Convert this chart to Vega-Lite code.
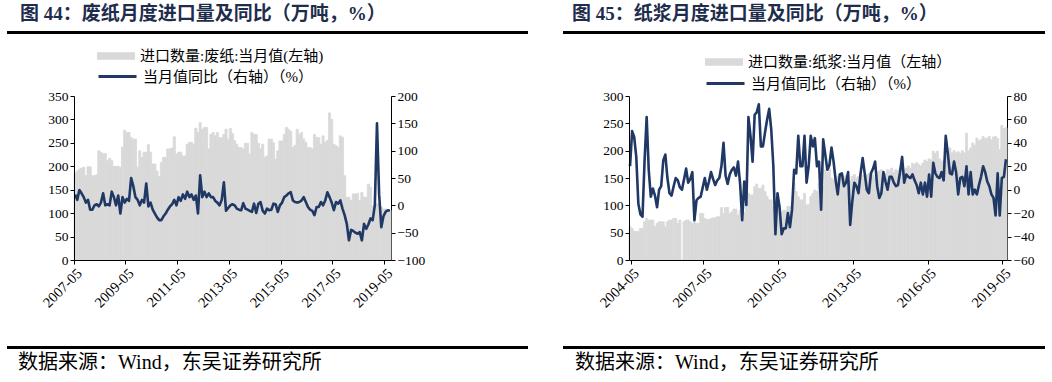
{
"$schema": "https://vega.github.io/schema/vega-lite/v6.json",
"background": "white",
"padding": {"left": 7, "top": 5, "right": 0, "bottom": 0},
"spacing": 0,
"resolve": {"scale": {"fill": "independent", "stroke": "independent"}, "legend": {"fill": "independent", "stroke": "independent"}},
"datasets": {
"paper": [
{"m":"2007-05","v":185,"y":20},{"m":"2007-06","v":190,"y":10},{"m":"2007-07","v":194,"y":28},{"m":"2007-08","v":196,"y":22},{"m":"2007-09","v":198,"y":15},{"m":"2007-10","v":180,"y":5},{"m":"2007-11","v":199,"y":10},{"m":"2007-12","v":199,"y":-8},
{"m":"2008-01","v":180,"y":-8},{"m":"2008-02","v":180,"y":0},{"m":"2008-03","v":182,"y":2},{"m":"2008-04","v":233,"y":-2},{"m":"2008-05","v":230,"y":5},{"m":"2008-06","v":227,"y":22},{"m":"2008-07","v":227,"y":0},{"m":"2008-08","v":212,"y":2},{"m":"2008-09","v":217,"y":0},{"m":"2008-10","v":212,"y":25},{"m":"2008-11","v":200,"y":15},{"m":"2008-12","v":200,"y":0},
{"m":"2009-01","v":200,"y":18},{"m":"2009-02","v":198,"y":-15},{"m":"2009-03","v":241,"y":15},{"m":"2009-04","v":277,"y":5},{"m":"2009-05","v":272,"y":12},{"m":"2009-06","v":272,"y":8},{"m":"2009-07","v":261,"y":50},{"m":"2009-08","v":258,"y":35},{"m":"2009-09","v":258,"y":15},{"m":"2009-10","v":198,"y":10},{"m":"2009-11","v":233,"y":0},{"m":"2009-12","v":219,"y":10},
{"m":"2010-01","v":230,"y":5},{"m":"2010-02","v":230,"y":40},{"m":"2010-03","v":246,"y":-2},{"m":"2010-04","v":230,"y":5},{"m":"2010-05","v":205,"y":-8},{"m":"2010-06","v":205,"y":-15},{"m":"2010-07","v":190,"y":-22},{"m":"2010-08","v":178,"y":-27},{"m":"2010-09","v":208,"y":-27},{"m":"2010-10","v":219,"y":-20},{"m":"2010-11","v":219,"y":-15},{"m":"2010-12","v":237,"y":-8},
{"m":"2011-01","v":237,"y":-2},{"m":"2011-02","v":239,"y":2},{"m":"2011-03","v":263,"y":10},{"m":"2011-04","v":226,"y":0},{"m":"2011-05","v":230,"y":15},{"m":"2011-06","v":230,"y":8},{"m":"2011-07","v":222,"y":20},{"m":"2011-08","v":222,"y":12},{"m":"2011-09","v":247,"y":25},{"m":"2011-10","v":251,"y":15},{"m":"2011-11","v":251,"y":20},{"m":"2011-12","v":247,"y":10},
{"m":"2012-01","v":281,"y":18},{"m":"2012-02","v":272,"y":-15},{"m":"2012-03","v":293,"y":55},{"m":"2012-04","v":279,"y":15},{"m":"2012-05","v":283,"y":25},{"m":"2012-06","v":283,"y":15},{"m":"2012-07","v":237,"y":22},{"m":"2012-08","v":268,"y":15},{"m":"2012-09","v":272,"y":15},{"m":"2012-10","v":265,"y":8},{"m":"2012-11","v":272,"y":5},{"m":"2012-12","v":261,"y":0},
{"m":"2013-01","v":261,"y":10},{"m":"2013-02","v":268,"y":42},{"m":"2013-03","v":279,"y":-10},{"m":"2013-04","v":258,"y":-5},{"m":"2013-05","v":281,"y":0},{"m":"2013-06","v":270,"y":2},{"m":"2013-07","v":255,"y":0},{"m":"2013-08","v":247,"y":-6},{"m":"2013-09","v":240,"y":-8},{"m":"2013-10","v":240,"y":-9},{"m":"2013-11","v":237,"y":4},{"m":"2013-12","v":249,"y":-6},
{"m":"2014-01","v":249,"y":-8},{"m":"2014-02","v":226,"y":-10},{"m":"2014-03","v":272,"y":-12},{"m":"2014-04","v":268,"y":3},{"m":"2014-05","v":268,"y":-14},{"m":"2014-06","v":249,"y":3},{"m":"2014-07","v":237,"y":6},{"m":"2014-08","v":247,"y":-10},{"m":"2014-09","v":219,"y":-15},{"m":"2014-10","v":222,"y":-6},{"m":"2014-11","v":258,"y":-9},{"m":"2014-12","v":258,"y":-8},
{"m":"2015-01","v":250,"y":3},{"m":"2015-02","v":215,"y":2},{"m":"2015-03","v":233,"y":-12},{"m":"2015-04","v":254,"y":0},{"m":"2015-05","v":254,"y":5},{"m":"2015-06","v":268,"y":15},{"m":"2015-07","v":283,"y":18},{"m":"2015-08","v":279,"y":22},{"m":"2015-09","v":275,"y":24},{"m":"2015-10","v":240,"y":9},{"m":"2015-11","v":245,"y":6},{"m":"2015-12","v":279,"y":5},
{"m":"2016-01","v":268,"y":6},{"m":"2016-02","v":272,"y":9},{"m":"2016-03","v":258,"y":15},{"m":"2016-04","v":251,"y":6},{"m":"2016-05","v":240,"y":-3},{"m":"2016-06","v":240,"y":-8},{"m":"2016-07","v":237,"y":-10},{"m":"2016-08","v":268,"y":-18},{"m":"2016-09","v":262,"y":-3},{"m":"2016-10","v":261,"y":-3},{"m":"2016-11","v":247,"y":6},{"m":"2016-12","v":265,"y":0},
{"m":"2017-01","v":251,"y":9},{"m":"2017-02","v":255,"y":24},{"m":"2017-03","v":314,"y":15},{"m":"2017-04","v":300,"y":5},{"m":"2017-05","v":247,"y":-9},{"m":"2017-06","v":244,"y":6},{"m":"2017-07","v":240,"y":3},{"m":"2017-08","v":265,"y":9},{"m":"2017-09","v":262,"y":-6},{"m":"2017-10","v":180,"y":-18},{"m":"2017-11","v":134,"y":-34},{"m":"2017-12","v":134,"y":-64},
{"m":"2018-01","v":127,"y":-45},{"m":"2018-02","v":141,"y":-47},{"m":"2018-03","v":141,"y":-50},{"m":"2018-04","v":142,"y":-52},{"m":"2018-05","v":127,"y":-49},{"m":"2018-06","v":144,"y":-64},{"m":"2018-07","v":134,"y":-34},{"m":"2018-08","v":134,"y":-43},{"m":"2018-09","v":162,"y":-35},{"m":"2018-10","v":155,"y":-24},{"m":"2018-11","v":116,"y":-27},{"m":"2018-12","v":116,"y":0},
{"m":"2019-01","v":120,"y":150},{"m":"2019-02","v":120,"y":20},{"m":"2019-03","v":113,"y":-40},{"m":"2019-04","v":109,"y":-20},{"m":"2019-05","v":109,"y":-12},{"m":"2019-06","v":100,"y":-9},{"m":"2019-07","v":106,"y":-10}
],
"pulp": [
{"m":"2004-05","v":61,"y":20},{"m":"2004-06","v":58,"y":50},{"m":"2004-07","v":53,"y":45},{"m":"2004-08","v":52,"y":28},{"m":"2004-09","v":52,"y":-12},{"m":"2004-10","v":58,"y":-21},{"m":"2004-11","v":58,"y":-23},{"m":"2004-12","v":70,"y":25},
{"m":"2005-01","v":76,"y":62},{"m":"2005-02","v":73,"y":17},{"m":"2005-03","v":73,"y":-6},{"m":"2005-04","v":73,"y":1},{"m":"2005-05","v":61,"y":-5},{"m":"2005-06","v":67,"y":-15},{"m":"2005-07","v":70,"y":0},{"m":"2005-08","v":70,"y":3},{"m":"2005-09","v":70,"y":25},{"m":"2005-10","v":61,"y":30},{"m":"2005-11","v":70,"y":10},{"m":"2005-12","v":73,"y":-3},
{"m":"2006-01","v":73,"y":-5},{"m":"2006-02","v":76,"y":3},{"m":"2006-03","v":76,"y":10},{"m":"2006-04","v":67,"y":8},{"m":"2006-05","v":73,"y":2},{"m":"2006-06","v":0,"y":0},{"m":"2006-07","v":70,"y":9},{"m":"2006-08","v":73,"y":18},{"m":"2006-09","v":73,"y":6},{"m":"2006-10","v":70,"y":9},{"m":"2006-11","v":67,"y":15},{"m":"2006-12","v":76,"y":-26},
{"m":"2007-01","v":67,"y":-9},{"m":"2007-02","v":67,"y":-7},{"m":"2007-03","v":85,"y":-6},{"m":"2007-04","v":85,"y":2},{"m":"2007-05","v":76,"y":10},{"m":"2007-06","v":74,"y":0},{"m":"2007-07","v":74,"y":7},{"m":"2007-08","v":76,"y":15},{"m":"2007-09","v":77,"y":9},{"m":"2007-10","v":77,"y":4},{"m":"2007-11","v":79,"y":8},{"m":"2007-12","v":79,"y":10},
{"m":"2008-01","v":96,"y":20},{"m":"2008-02","v":85,"y":40},{"m":"2008-03","v":96,"y":12},{"m":"2008-04","v":96,"y":5},{"m":"2008-05","v":85,"y":13},{"m":"2008-06","v":88,"y":17},{"m":"2008-07","v":93,"y":19},{"m":"2008-08","v":93,"y":12},{"m":"2008-09","v":82,"y":24},{"m":"2008-10","v":91,"y":5},{"m":"2008-11","v":91,"y":-26},{"m":"2008-12","v":87,"y":7},
{"m":"2009-01","v":113,"y":-13},{"m":"2009-02","v":122,"y":62},{"m":"2009-03","v":119,"y":46},{"m":"2009-04","v":119,"y":24},{"m":"2009-05","v":134,"y":64},{"m":"2009-06","v":139,"y":66},{"m":"2009-07","v":131,"y":73},{"m":"2009-08","v":131,"y":37},{"m":"2009-09","v":137,"y":37},{"m":"2009-10","v":125,"y":49},{"m":"2009-11","v":116,"y":60},{"m":"2009-12","v":110,"y":69},
{"m":"2010-01","v":110,"y":51},{"m":"2010-02","v":98,"y":20},{"m":"2010-03","v":101,"y":-38},{"m":"2010-04","v":94,"y":-3},{"m":"2010-05","v":88,"y":-15},{"m":"2010-06","v":88,"y":-38},{"m":"2010-07","v":91,"y":-33},{"m":"2010-08","v":91,"y":-33},{"m":"2010-09","v":98,"y":-20},{"m":"2010-10","v":98,"y":-32},{"m":"2010-11","v":82,"y":-17},{"m":"2010-12","v":140,"y":17},
{"m":"2011-01","v":125,"y":14},{"m":"2011-02","v":116,"y":46},{"m":"2011-03","v":110,"y":20},{"m":"2011-04","v":110,"y":20},{"m":"2011-05","v":122,"y":46},{"m":"2011-06","v":101,"y":6},{"m":"2011-07","v":101,"y":20},{"m":"2011-08","v":116,"y":46},{"m":"2011-09","v":122,"y":37},{"m":"2011-10","v":128,"y":44},{"m":"2011-11","v":125,"y":20},{"m":"2011-12","v":140,"y":24},
{"m":"2012-01","v":130,"y":-17},{"m":"2012-02","v":135,"y":43},{"m":"2012-03","v":165,"y":30},{"m":"2012-04","v":160,"y":17},{"m":"2012-05","v":167,"y":21},{"m":"2012-06","v":150,"y":36},{"m":"2012-07","v":146,"y":24},{"m":"2012-08","v":150,"y":8},{"m":"2012-09","v":153,"y":-4},{"m":"2012-10","v":148,"y":13},{"m":"2012-11","v":150,"y":14},{"m":"2012-12","v":153,"y":3},
{"m":"2013-01","v":155,"y":6},{"m":"2013-02","v":150,"y":15},{"m":"2013-03","v":145,"y":-30},{"m":"2013-04","v":153,"y":-10},{"m":"2013-05","v":156,"y":6},{"m":"2013-06","v":150,"y":3},{"m":"2013-07","v":153,"y":-3},{"m":"2013-08","v":158,"y":14},{"m":"2013-09","v":155,"y":27},{"m":"2013-10","v":150,"y":14},{"m":"2013-11","v":156,"y":0},{"m":"2013-12","v":158,"y":-3},
{"m":"2014-01","v":160,"y":14},{"m":"2014-02","v":155,"y":18},{"m":"2014-03","v":150,"y":24},{"m":"2014-04","v":160,"y":3},{"m":"2014-05","v":163,"y":-7},{"m":"2014-06","v":165,"y":-3},{"m":"2014-07","v":160,"y":15},{"m":"2014-08","v":158,"y":7},{"m":"2014-09","v":165,"y":0},{"m":"2014-10","v":163,"y":11},{"m":"2014-11","v":168,"y":11},{"m":"2014-12","v":160,"y":6},
{"m":"2015-01","v":165,"y":3},{"m":"2015-02","v":163,"y":4},{"m":"2015-03","v":168,"y":15},{"m":"2015-04","v":170,"y":28},{"m":"2015-05","v":165,"y":6},{"m":"2015-06","v":168,"y":13},{"m":"2015-07","v":172,"y":11},{"m":"2015-08","v":168,"y":10},{"m":"2015-09","v":177,"y":13},{"m":"2015-10","v":175,"y":8},{"m":"2015-11","v":178,"y":4},{"m":"2015-12","v":175,"y":-3},
{"m":"2016-01","v":172,"y":6},{"m":"2016-02","v":177,"y":-4},{"m":"2016-03","v":183,"y":6},{"m":"2016-04","v":180,"y":-6},{"m":"2016-05","v":185,"y":13},{"m":"2016-06","v":183,"y":-6},{"m":"2016-07","v":199,"y":23},{"m":"2016-08","v":195,"y":14},{"m":"2016-09","v":199,"y":11},{"m":"2016-10","v":185,"y":10},{"m":"2016-11","v":180,"y":15},{"m":"2016-12","v":183,"y":8},
{"m":"2017-01","v":202,"y":46},{"m":"2017-02","v":198,"y":31},{"m":"2017-03","v":205,"y":14},{"m":"2017-04","v":196,"y":13},{"m":"2017-05","v":200,"y":24},{"m":"2017-06","v":196,"y":15},{"m":"2017-07","v":198,"y":-4},{"m":"2017-08","v":195,"y":10},{"m":"2017-09","v":200,"y":11},{"m":"2017-10","v":196,"y":3},{"m":"2017-11","v":232,"y":20},{"m":"2017-12","v":200,"y":-4},
{"m":"2018-01","v":205,"y":15},{"m":"2018-02","v":214,"y":-4},{"m":"2018-03","v":210,"y":0},{"m":"2018-04","v":223,"y":-4},{"m":"2018-05","v":218,"y":4},{"m":"2018-06","v":220,"y":11},{"m":"2018-07","v":226,"y":20},{"m":"2018-08","v":222,"y":15},{"m":"2018-09","v":223,"y":7},{"m":"2018-10","v":226,"y":3},{"m":"2018-11","v":220,"y":-4},{"m":"2018-12","v":225,"y":-7},
{"m":"2019-01","v":226,"y":-22},{"m":"2019-02","v":222,"y":14},{"m":"2019-03","v":202,"y":-22},{"m":"2019-04","v":246,"y":10},{"m":"2019-05","v":240,"y":11},{"m":"2019-06","v":242,"y":26}
]
},
"vconcat": [
{"hconcat": [
 {"width": 521, "height": 3, "data": {"values": []}, "mark": {"type": "point", "opacity": 0}, "view": {"fill": "#000000", "stroke": null},
  "title": {"text": "图 44：废纸月度进口量及同比（万吨，%）", "anchor": "start", "dx": 13, "offset": 7}},
 {"width": 482, "height": 3, "data": {"values": []}, "mark": {"type": "point", "opacity": 0}, "view": {"fill": "#000000", "stroke": null},
  "title": {"text": "图 45：纸浆月度进口量及同比（万吨，%）", "anchor": "start", "dx": 9, "offset": 7}}
], "spacing": 35},
{"width": 1, "height": 3, "data": {"values": []}, "mark": {"type": "point", "opacity": 0}},
{"hconcat": [
 {"width": 32, "height": 1, "data": {"values": []}, "mark": {"type": "point", "opacity": 0}},
 {"width": 317, "height": 164, "data": {"name": "paper"},
  "layer": [
   {"mark": {"type": "bar", "stroke": "#d9d9d9", "strokeWidth": 0.8},
    "encoding": {
     "x": {"field": "m", "type": "ordinal", "scale": {"paddingInner": 0, "paddingOuter": 0},
       "axis": {"values": ["2007-05","2009-05","2011-05","2013-05","2015-05","2017-05","2019-05"], "labelAngle": -45, "bandPosition": 0, "labelOverlap": false, "labelBound": false, "labelFlush": false, "title": null, "zindex": 2}},
     "y": {"field": "v", "type": "quantitative", "scale": {"domain": [0, 350], "nice": false},
       "axis": {"values": [0,50,100,150,200,250,300,350], "title": null, "zindex": 2}},
     "fill": {"datum": "进口数量:废纸:当月值(左轴)", "scale": {"range": ["#d9d9d9"]},
       "legend": {"orient": "none", "legendX": 23, "legendY": -59, "title": null, "symbolType": "M-1,-0.2H1V0.2H-1Z", "symbolSize": 1444, "symbolStrokeWidth": 0, "labelOffset": 5}}
    }},
   {"mark": {"type": "line", "strokeWidth": 2.6, "strokeJoin": "round"},
    "encoding": {
     "x": {"field": "m", "type": "ordinal"},
     "y": {"field": "y", "type": "quantitative", "scale": {"domain": [-100, 200], "nice": false},
       "axis": {"orient": "right", "values": [-100,-50,0,50,100,150,200], "title": null}},
     "stroke": {"datum": "当月值同比（右轴）（%）", "scale": {"range": ["#1f3864"]},
       "legend": {"orient": "none", "legendX": 23, "legendY": -40, "title": null, "symbolType": "M-1,0H1", "symbolSize": 1444, "symbolStrokeWidth": 3, "labelOffset": 5}}
    }}
  ],
  "resolve": {"scale": {"y": "independent", "fill": "independent", "stroke": "independent"}}
 },
 {"width": 171, "height": 1, "data": {"values": []}, "mark": {"type": "point", "opacity": 0}},
 {"width": 378, "height": 164, "data": {"name": "pulp"},
  "layer": [
   {"mark": {"type": "bar", "stroke": "#d9d9d9", "strokeWidth": 0.8},
    "encoding": {
     "x": {"field": "m", "type": "ordinal", "scale": {"paddingInner": 0, "paddingOuter": 0},
       "axis": {"values": ["2004-06","2007-05","2010-05","2013-05","2016-05","2019-05"], "labelExpr": "datum.value == '2004-06' ? '2004-05' : datum.value", "labelAngle": -45, "bandPosition": 0, "labelOverlap": false, "labelBound": false, "labelFlush": false, "title": null, "zindex": 2}},
     "y": {"field": "v", "type": "quantitative", "scale": {"domain": [0, 300], "nice": false},
       "axis": {"values": [0,50,100,150,200,250,300], "title": null, "zindex": 2}},
     "fill": {"datum": "进口数量:纸浆:当月值（左轴）", "scale": {"range": ["#d9d9d9"]},
       "legend": {"orient": "none", "legendX": 76, "legendY": -53, "title": null, "symbolType": "M-1,-0.2H1V0.2H-1Z", "symbolSize": 1444, "symbolStrokeWidth": 0, "labelOffset": 5}}
    }},
   {"mark": {"type": "line", "strokeWidth": 2.6, "strokeJoin": "round"},
    "encoding": {
     "x": {"field": "m", "type": "ordinal"},
     "y": {"field": "y", "type": "quantitative", "scale": {"domain": [-60, 80], "nice": false},
       "axis": {"orient": "right", "values": [-60,-40,-20,0,20,40,60,80], "title": null}},
     "stroke": {"datum": "当月值同比（右轴）（%）", "scale": {"range": ["#1f3864"]},
       "legend": {"orient": "none", "legendX": 76, "legendY": -33, "title": null, "symbolType": "M-1,0H1", "symbolSize": 1444, "symbolStrokeWidth": 3, "labelOffset": 5}}
    }}
  ],
  "resolve": {"scale": {"y": "independent", "fill": "independent", "stroke": "independent"}}
 }
], "spacing": 0, "resolve": {"scale": {"fill": "independent", "stroke": "independent"}, "legend": {"fill": "independent", "stroke": "independent"}}},
{"width": 1, "height": 36, "data": {"values": []}, "mark": {"type": "point", "opacity": 0}},
{"hconcat": [
 {"width": 521, "height": 3, "data": {"values": []}, "mark": {"type": "point", "opacity": 0}, "view": {"fill": "#000000", "stroke": null},
  "title": {"text": "数据来源：Wind，东吴证券研究所", "orient": "bottom", "anchor": "start", "dx": 11, "offset": 4, "fontSize": 20, "fontWeight": "normal", "color": "#000000"}},
 {"width": 482, "height": 3, "data": {"values": []}, "mark": {"type": "point", "opacity": 0}, "view": {"fill": "#000000", "stroke": null},
  "title": {"text": "数据来源：Wind，东吴证券研究所", "orient": "bottom", "anchor": "start", "dx": 12, "offset": 4, "fontSize": 20, "fontWeight": "normal", "color": "#000000"}}
], "spacing": 35}
],
"config": {
 "view": {"stroke": null},
 "font": "Liberation Serif, Noto Sans CJK SC",
 "title": {"font": "Liberation Serif, Noto Sans CJK SC", "fontSize": 19, "fontWeight": "bold", "color": "#1f2d4d"},
 "axis": {"domainColor": "#000000", "tickColor": "#000000", "labelColor": "#000000", "labelFont": "Liberation Serif", "labelFontSize": 13.5, "tickSize": 4, "grid": false, "labelPadding": 2, "domainWidth": 1},
 "axisX": {"labelFontSize": 14.5},
 "legend": {"labelFont": "Liberation Serif, Noto Sans CJK SC", "labelFontSize": 15, "labelColor": "#000000", "labelLimit": 400, "padding": 0, "rowPadding": 3}
}
}
